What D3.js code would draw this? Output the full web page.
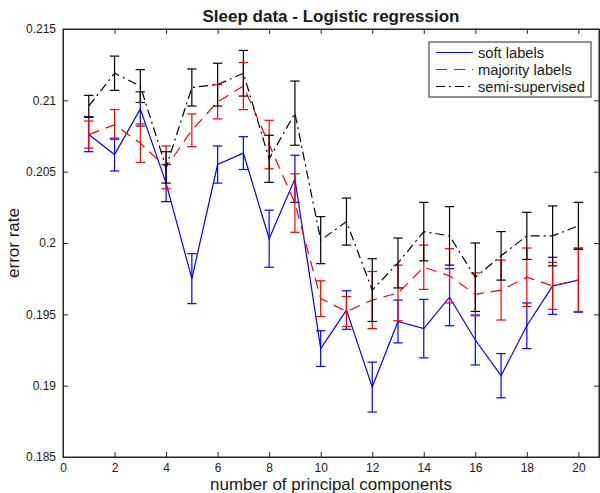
<!DOCTYPE html>
<html>
<head>
<meta charset="utf-8">
<script src="https://cdn.jsdelivr.net/npm/d3@7"></script>
<style>
  body { margin: 0; background: #fff; }
  text { font-family: "Liberation Sans", Arial, sans-serif; fill: #1a1a1a; }
</style>
</head>
<body>
<div id="chart"></div>
<script>
// data
var components = d3.range(1, 21);

var softMean = [0.2076, 0.2062, 0.2094, 0.2042, 0.1975, 0.2055, 0.2063, 0.2003, 0.2045, 0.1926,
                0.1953, 0.1899, 0.1945, 0.1940, 0.1962, 0.1932, 0.1907, 0.1942, 0.1970, 0.1974];
var softErr = [0.0012, 0.00115, 0.0012, 0.0013, 0.00175, 0.0013, 0.00115, 0.002, 0.00165, 0.00125,
               0.00135, 0.00175, 0.0015, 0.00205, 0.002, 0.00175, 0.00155, 0.0016, 0.002, 0.00225];

var majMean = [0.2076, 0.2083, 0.2070, 0.2053, 0.2079, 0.2099, 0.2110, 0.2069, 0.2028, 0.1961,
               0.1952, 0.1960, 0.1965, 0.1983, 0.1977, 0.1964, 0.1967, 0.1976, 0.1970, 0.1974];
var majErr = [0.00095, 0.00105, 0.00135, 0.0015, 0.00115, 0.0012, 0.00165, 0.0017, 0.00205, 0.00125,
              0.00105, 0.002, 0.00195, 0.00155, 0.0019, 0.0015, 0.0021, 0.00205, 0.00165, 0.0022];

var semiMean = [0.2096, 0.2119, 0.2110, 0.2053, 0.2109, 0.2111, 0.2119, 0.2059, 0.2091, 0.2002,
                0.2015, 0.1967, 0.1986, 0.2008, 0.2005, 0.1976, 0.1991, 0.2005, 0.2005, 0.2012];
var semiErr = [0.00075, 0.0012, 0.00115, 0.0011, 0.0013, 0.0015, 0.0016, 0.00165, 0.00225, 0.00165,
               0.00165, 0.0022, 0.00175, 0.00205, 0.00205, 0.0024, 0.0017, 0.00165, 0.0021, 0.00165];

var xTicks = [0, 2, 4, 6, 8, 10, 12, 14, 16, 18, 20];
var yTicks = [0.185, 0.19, 0.195, 0.2, 0.205, 0.21, 0.215];
var yTickLabels = ["0.185", "0.19", "0.195", "0.2", "0.205", "0.21", "0.215"];

var seriesNames = ["soft labels", "majority labels", "semi-supervised"];

// chart set up
var svgWidth = 600;
var svgHeight = 493;
var margin = { top: 29, right: 1, bottom: 36, left: 63 };
var width = svgWidth - margin.left - margin.right;
var height = svgHeight - margin.top - margin.bottom;

var svg = d3.select("#chart").append("svg")
  .attr("width", svgWidth)
  .attr("height", svgHeight);

svg.append("rect").attr("width", svgWidth).attr("height", svgHeight).attr("fill", "#fff");

var g = svg.append("g")
  .attr("transform", `translate(${margin.left}, ${margin.top})`);

var x = d3.scaleLinear().domain([0, 20.8]).range([0, width]);
var y = d3.scaleLinear().domain([0.185, 0.215]).range([height, 0]);

var series = [
  { name: seriesNames[0], mean: softMean, err: softErr, color: "#0000ff", dash: null },
  { name: seriesNames[1], mean: majMean, err: majErr, color: "#ff0000", dash: "11,7" },
  { name: seriesNames[2], mean: semiMean, err: semiErr, color: "#000000", dash: "9,4,2,4" }
];

var capHalf = 4.7;
var line = d3.line().x(d => x(d.x)).y(d => y(d.m));

series.forEach(function(s) {
  var pts = components.map((c, i) => ({ x: c, m: s.mean[i], e: s.err[i] }));
  var sg = g.append("g");

  // error bars
  var eb = sg.selectAll(".eb").data(pts).enter().append("g")
    .attr("stroke", s.color).attr("stroke-width", 1.2).attr("fill", "none");
  eb.append("line")
    .attr("x1", d => x(d.x)).attr("x2", d => x(d.x))
    .attr("y1", d => y(d.m - d.e)).attr("y2", d => y(d.m + d.e));
  eb.append("line")
    .attr("x1", d => x(d.x) - capHalf).attr("x2", d => x(d.x) + capHalf)
    .attr("y1", d => y(d.m + d.e)).attr("y2", d => y(d.m + d.e));
  eb.append("line")
    .attr("x1", d => x(d.x) - capHalf).attr("x2", d => x(d.x) + capHalf)
    .attr("y1", d => y(d.m - d.e)).attr("y2", d => y(d.m - d.e));

  sg.append("path").datum(pts)
    .attr("d", line)
    .attr("fill", "none")
    .attr("stroke", s.color)
    .attr("stroke-width", 1.2)
    .attr("stroke-dasharray", s.dash);
});

// axes (box with inward ticks)
var axisColor = "#262626";
var tickLen = 5;

var bottomAxis = d3.axisBottom(x).tickValues(xTicks).tickSizeInner(-tickLen).tickSizeOuter(0).tickPadding(6);
var topAxis = d3.axisTop(x).tickValues(xTicks).tickSizeInner(-tickLen).tickSizeOuter(0).tickFormat("");
var leftAxis = d3.axisLeft(y).tickValues(yTicks).tickSizeInner(-tickLen).tickSizeOuter(0).tickPadding(7)
  .tickFormat((d, i) => yTickLabels[i]);
var rightAxis = d3.axisRight(y).tickValues(yTicks).tickSizeInner(-tickLen).tickSizeOuter(0).tickFormat("");

function styleAxis(sel) {
  sel.selectAll("path, line").attr("stroke", axisColor);
  sel.selectAll("text").attr("font-size", 12).attr("fill", "#1a1a1a")
    .attr("font-family", "Liberation Sans, Arial, sans-serif");
}

g.append("g").attr("transform", `translate(0, ${height})`).call(bottomAxis).call(styleAxis);
g.append("g").call(topAxis).call(styleAxis);
g.append("g").call(leftAxis).call(styleAxis);
g.append("g").attr("transform", `translate(${width}, 0)`).call(rightAxis).call(styleAxis);

g.append("rect")
  .attr("width", width).attr("height", height)
  .attr("fill", "none").attr("stroke", axisColor).attr("stroke-width", 1);

// titles
svg.append("text")
  .attr("x", margin.left + width / 2).attr("y", 22)
  .attr("text-anchor", "middle")
  .attr("font-size", 17).attr("font-weight", "bold")
  .text("Sleep data - Logistic regression");

svg.append("text")
  .attr("x", margin.left + width / 2).attr("y", 489.5)
  .attr("text-anchor", "middle")
  .attr("font-size", 17)
  .text("number of principal components");

svg.append("text")
  .attr("transform", `translate(19, ${margin.top + height / 2}) rotate(-90)`)
  .attr("text-anchor", "middle")
  .attr("font-size", 17)
  .text("error rate");

// legend
var legend = svg.append("g").attr("transform", "translate(429, 42)");
legend.append("rect")
  .attr("width", 162).attr("height", 55)
  .attr("fill", "#fff").attr("stroke", axisColor).attr("stroke-width", 1);

series.forEach(function(s, i) {
  var ly = 10.5 + i * 17;
  legend.append("line")
    .attr("x1", 7).attr("x2", 44).attr("y1", ly).attr("y2", ly)
    .attr("stroke", s.color).attr("stroke-width", 1.2)
    .attr("stroke-dasharray", s.dash);
  legend.append("text")
    .attr("x", 49).attr("y", ly + 5)
    .attr("font-size", 14.7)
    .text(s.name);
});
</script>
</body>
</html>
